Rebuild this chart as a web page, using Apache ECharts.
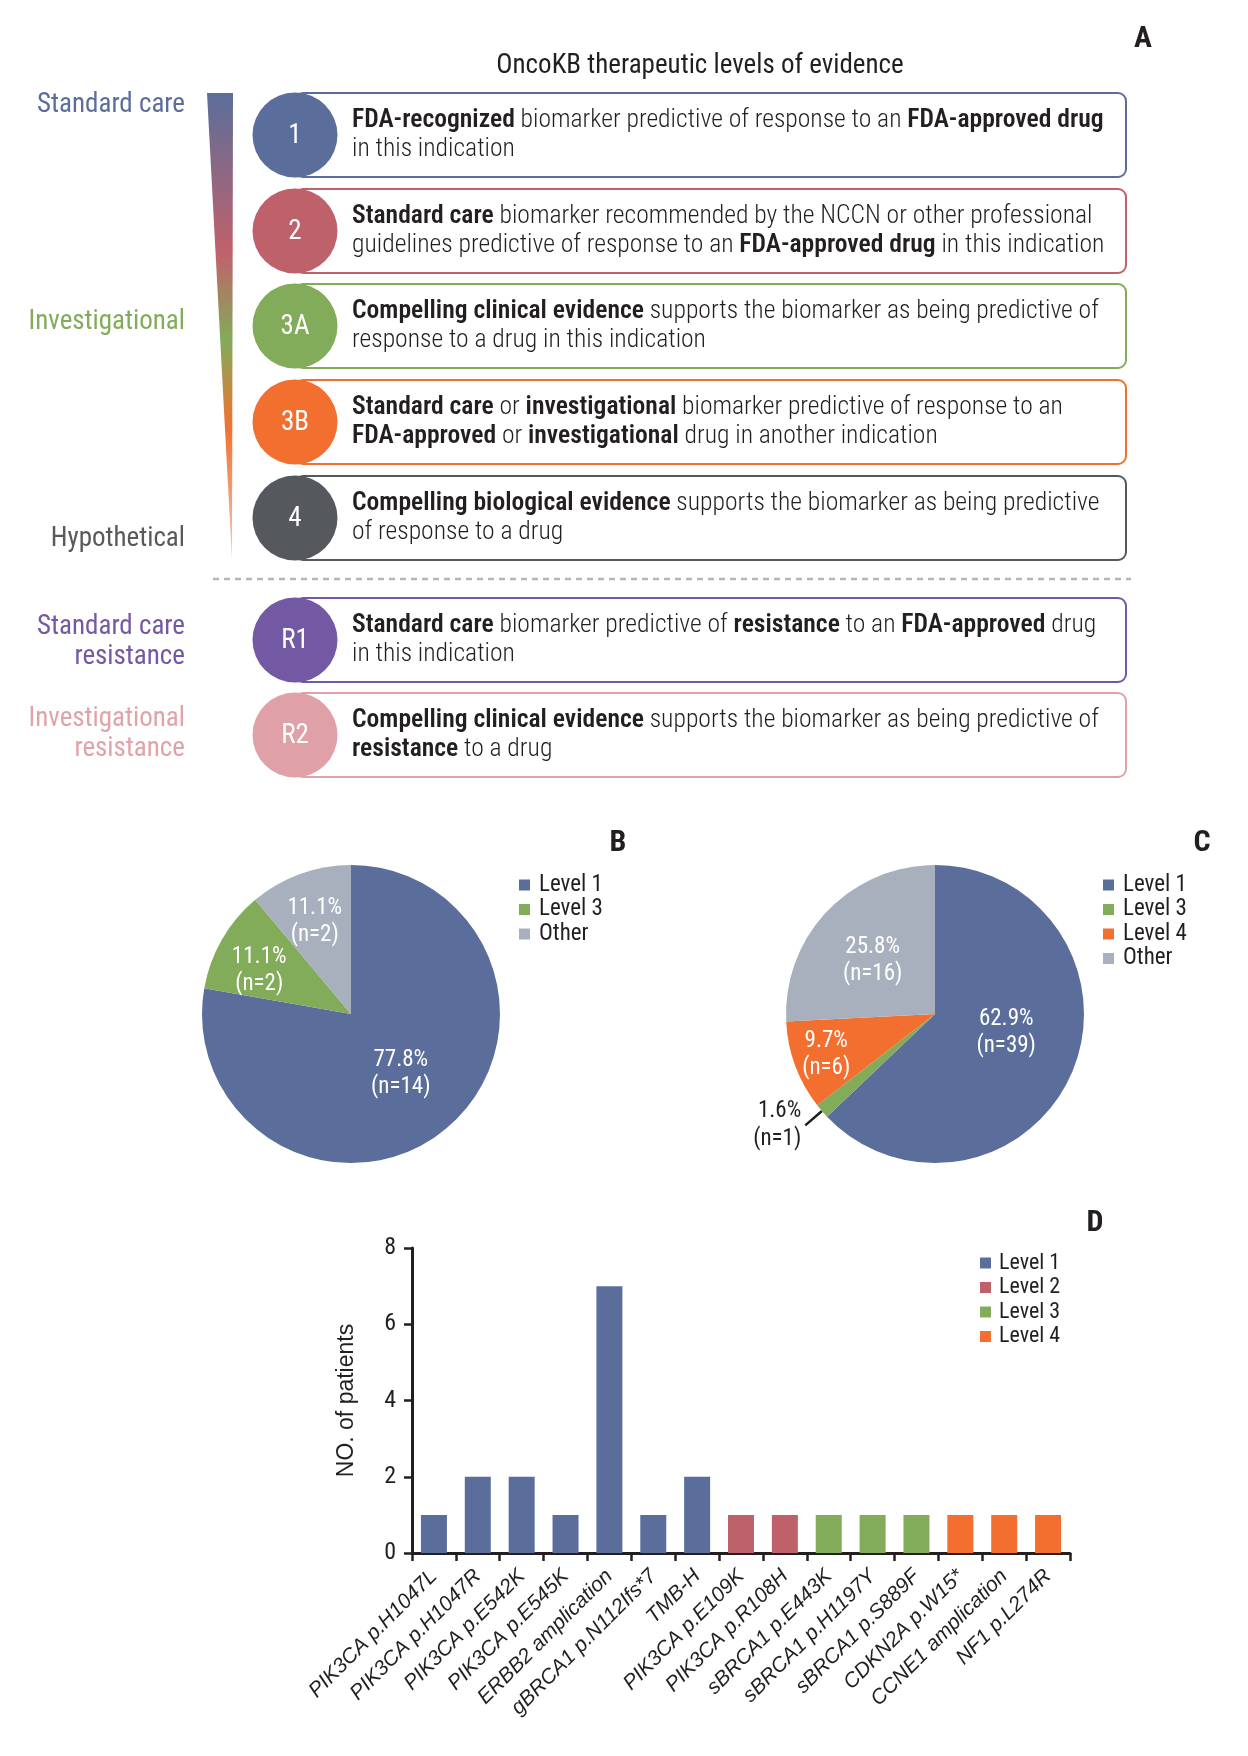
<!DOCTYPE html>
<html><head><meta charset="utf-8">
<script src="https://cdn.jsdelivr.net/npm/echarts@6/dist/echarts.min.js"></script>
<style>html,body{margin:0;padding:0;background:#fff}#c{width:1248px;height:1756px}</style>
</head><body><div id="c"></div>
<script>
// ---------- DATA ----------
const levelIds = ['1', '2', '3A', '3B', '4', 'R1', 'R2'];
const levelTexts = [
  '{b|FDA-recognized} biomarker predictive of response to an {b|FDA-approved drug}\nin this indication',
  '{b|Standard care} biomarker recommended by the NCCN or other professional\nguidelines predictive of response to an {b|FDA-approved drug} in this indication',
  '{b|Compelling clinical evidence} supports the biomarker as being predictive of\nresponse to a drug in this indication',
  '{b|Standard care} or {b|investigational} biomarker predictive of response to an\n{b|FDA-approved} or {b|investigational} drug in another indication',
  '{b|Compelling biological evidence} supports the biomarker as being predictive\nof response to a drug',
  '{b|Standard care} biomarker predictive of {b|resistance} to an {b|FDA-approved} drug\nin this indication',
  '{b|Compelling clinical evidence} supports the biomarker as being predictive of\n{b|resistance} to a drug'
];
const sideLabels = ['Standard care', 'Investigational', 'Hypothetical', 'Standard care\nresistance', 'Investigational\nresistance'];
const panelTitle = 'OncoKB therapeutic levels of evidence';

const pieBNames = ['Level 1', 'Level 3', 'Other'];
const pieBValues = [14, 2, 2];
const pieCNames = ['Level 1', 'Level 3', 'Level 4', 'Other'];
const pieCValues = [39, 1, 6, 16];

const barCategories = ['PIK3CA p.H1047L', 'PIK3CA p.H1047R', 'PIK3CA p.E542K', 'PIK3CA p.E545K',
  'ERBB2 amplication', 'gBRCA1 p.N112Ifs*7', 'TMB-H', 'PIK3CA p.E109K', 'PIK3CA p.R108H',
  'sBRCA1 p.E443K', 'sBRCA1 p.H1197Y', 'sBRCA1 p.S889F', 'CDKN2A p.W15*', 'CCNE1 amplication', 'NF1 p.L274R'];
const barLevels = ['Level 1', 'Level 1', 'Level 1', 'Level 1', 'Level 1', 'Level 1', 'Level 1',
  'Level 2', 'Level 2', 'Level 3', 'Level 3', 'Level 3', 'Level 4', 'Level 4', 'Level 4'];
const barCounts = [1, 2, 2, 1, 7, 1, 2, 1, 1, 1, 1, 1, 1, 1, 1];
const barLevelNames = ['Level 1', 'Level 2', 'Level 3', 'Level 4'];
const yTicks = [0, 2, 4, 6, 8];

// ---------- STYLE ----------
const COL = {
  'Level 1': '#5b6e9b', 'Level 2': '#bf616b', 'Level 3': '#82ab5a', 'Level 4': '#f26f30', 'Other': '#a9b0bd'
};
const circleColors = ['#5b6e9b', '#bf616b', '#82ab5a', '#f26f30', '#55595e', '#7358a3', '#dfa1a7'];
const sideColors = ['#5b6e9b', '#82ab5a', '#58595b', '#7358a3', '#e0a3a9'];
const INK = '#231f20';
const COND = '"Roboto Condensed", "Liberation Sans", sans-serif';
const ARIAL = '"Liberation Sans", Arial, sans-serif';

// ---------- LAYOUT (panel A) ----------
const rowY = [135, 231, 326, 422, 518, 640, 735];
const sideY = [105, 322, 539, 642, 734];
const graphics = [];

graphics.push({ type: 'text', x: 1143, y: 39, style: { text: 'A', font: 'bold 30px ' + COND, fill: INK, align: 'center', verticalAlign: 'middle' } });
graphics.push({ type: 'text', x: 700, y: 66, style: { text: panelTitle, font: '27px ' + COND, fill: INK, align: 'center', verticalAlign: 'middle' } });

// gradient wedge
graphics.push({
  type: 'polygon', shape: { points: [[207, 93], [233, 93], [232, 560]] },
  style: {
    fill: new echarts.graphic.LinearGradient(0, 0, 0, 1, [
      { offset: 0, color: '#5b6e9b' }, { offset: 0.34, color: '#c0616b' },
      { offset: 0.53, color: '#82ab5a' }, { offset: 0.72, color: '#f37130' },
      { offset: 1, color: '#e6cfc5' }
    ])
  }
});

sideLabels.forEach((t, i) => {
  graphics.push({ type: 'text', x: 185, y: sideY[i], style: { text: t, font: '27px ' + COND, fill: sideColors[i], align: 'right', verticalAlign: 'middle', lineHeight: 30 } });
});

// dashed separator
graphics.push({ type: 'line', shape: { x1: 213, y1: 579, x2: 1131, y2: 579 }, style: { stroke: '#b5b5b5', lineWidth: 2.5, lineDash: [6, 5] } });

levelIds.forEach((id, i) => {
  const cy = rowY[i];
  graphics.push({ type: 'rect', shape: { x: 295, y: cy - 42, width: 831, height: 84, r: 8 }, style: { fill: '#fff', stroke: circleColors[i], lineWidth: 2 } });
  graphics.push({ type: 'circle', shape: { cx: 295, cy: cy, r: 42.5 }, style: { fill: circleColors[i] } });
  graphics.push({ type: 'text', x: 295, y: cy + 1, style: { text: id, font: '27px ' + COND, fill: '#fff', align: 'center', verticalAlign: 'middle' } });
  graphics.push({
    type: 'text', x: 352, y: cy, style: {
      text: levelTexts[i], fill: INK, fontSize: 25.6, fontFamily: COND, fontWeight: 300, lineHeight: 29,
      align: 'left', verticalAlign: 'middle',
      rich: { b: { fontSize: 25.6, fontFamily: COND, fontWeight: 600, fill: INK, lineHeight: 29 } }
    }
  });
});

graphics.push({ type: 'text', x: 618, y: 843, style: { text: 'B', font: 'bold 30px ' + COND, fill: INK, align: 'center', verticalAlign: 'middle' } });
graphics.push({ type: 'text', x: 1202, y: 843, style: { text: 'C', font: 'bold 30px ' + COND, fill: INK, align: 'center', verticalAlign: 'middle' } });
graphics.push({ type: 'text', x: 1095, y: 1223, style: { text: 'D', font: 'bold 30px ' + COND, fill: INK, align: 'center', verticalAlign: 'middle' } });

// ---------- PIES ----------
const pieLabel = { show: true, position: 'inside', formatter: '{d}%\n(n={c})', color: '#fff', fontFamily: COND, fontSize: 23, lineHeight: 27 };
function pieData(names, values, showIdx, overlay, offsets) {
  return names.map((n, i) => {
    const d = { name: n, value: values[i], itemStyle: { color: overlay ? 'rgba(0,0,0,0)' : COL[n] } };
    d.label = Object.assign({}, pieLabel, { show: showIdx.indexOf(i) >= 0, offset: (offsets && offsets[i]) || [0, 0] });
    return d;
  });
}
function pieSeries(center, radius, names, values, showIdx, overlay, offsets) {
  return {
    type: 'pie', center: center, radius: radius, startAngle: 90, clockwise: true,
    percentPrecision: 1, avoidLabelOverlap: false, silent: !!overlay, legendHoverLink: false,
    emphasis: { disabled: true }, labelLine: { show: false }, z: overlay ? 3 : 2,
    label: pieLabel, data: pieData(names, values, showIdx, overlay, offsets)
  };
}
const pieCMain = pieSeries([935, 1014], 149, pieCNames, pieCValues, [0], false, [[0, -12]]);
pieCMain.data[1].label = { show: true, position: 'outside', formatter: '{d}%\n(n={c})', color: INK, fontFamily: COND, fontSize: 23, lineHeight: 28, distanceToLabelLine: 4 };
pieCMain.data[1].labelLine = { show: true, length: 22, length2: 0, lineStyle: { color: INK, width: 2.5 } };

// ---------- BARS ----------
const barSeries = barLevelNames.map(lv => ({
  type: 'bar', name: lv, stack: 'all', barWidth: 26, xAxisIndex: 0, yAxisIndex: 0,
  itemStyle: { color: COL[lv] }, emphasis: { disabled: true },
  data: barCounts.map((v, i) => barLevels[i] === lv ? v : null)
}));

const legendBase = {
  orient: 'vertical', icon: 'rect', itemWidth: 11, itemHeight: 11, selectedMode: false, padding: 0,
  textStyle: { fontFamily: COND, fontSize: 23, color: INK, lineHeight: 24, padding: [0, 0, 0, 4] }, itemGap: 0.5
};

const option = {
  animation: false,
  graphic: { elements: graphics },
  legend: [
    Object.assign({}, legendBase, { left: 519, top: 873, data: pieBNames }),
    Object.assign({}, legendBase, { left: 1103, top: 873, data: pieCNames }),
    Object.assign({}, legendBase, { left: 980, top: 1251, data: barLevelNames, textStyle: Object.assign({}, legendBase.textStyle, { fontSize: 22, padding: [0, 0, 0, 3] }) })
  ],
  grid: { left: 412, right: 178, top: 1248, bottom: 203, containLabel: false },
  xAxis: {
    type: 'category', data: barCategories,
    axisLine: { lineStyle: { color: INK, width: 3 } },
    axisTick: { show: true, length: 8, lineStyle: { color: INK, width: 2.5 } },
    axisLabel: { interval: 0, rotate: 45, margin: 20, fontFamily: ARIAL, fontStyle: 'italic', fontSize: 21, color: INK }
  },
  yAxis: {
    type: 'value', min: 0, max: 8, interval: 2,
    name: 'NO. of patients', nameLocation: 'middle', nameRotate: 90, nameGap: 54,
    nameTextStyle: { fontFamily: ARIAL, fontSize: 23, color: INK },
    axisLine: { show: true, lineStyle: { color: INK, width: 3 } },
    axisTick: { show: true, length: 8, lineStyle: { color: INK, width: 2.5 } },
    splitLine: { show: false },
    axisLabel: { margin: 16, fontFamily: COND, fontSize: 24, color: INK, formatter: v => yTicks.indexOf(v) >= 0 ? String(v) : '' }
  },
  series: [
    pieSeries([351, 1014], 149, pieBNames, pieBValues, [0], false),
    pieSeries([351, 1014], [0, 206], pieBNames, pieBValues, [1, 2], true, [null, [0, 10], [0, 7]]),
    pieCMain,
    pieSeries([935, 1014], [0, 166], pieCNames, pieCValues, [3], true, [null, null, null, [0, 6]]),
    pieSeries([935, 1014], [0, 226], pieCNames, pieCValues, [2], true)
  ].concat(barSeries)
};

const chart = echarts.init(document.getElementById('c'), null, { renderer: 'canvas' });
chart.setOption(option);
</script></body></html>
